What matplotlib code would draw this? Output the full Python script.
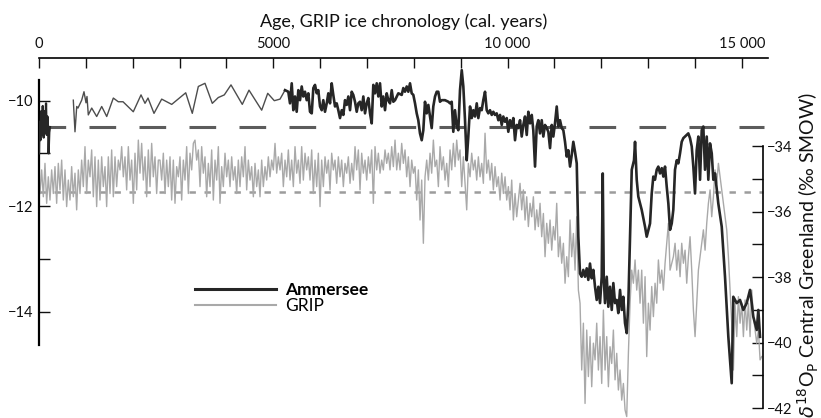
import numpy as np
import matplotlib
matplotlib.use("Agg")
import matplotlib.pyplot as plt
from matplotlib.lines import Line2D
from matplotlib.ticker import FixedLocator, MultipleLocator, NullFormatter, FixedFormatter

plt.rcParams['font.family'] = ['Lato', 'DejaVu Sans']
plt.rcParams['lines.scale_dashes'] = False
plt.rcParams['axes.unicode_minus'] = True

# ---------------- data ----------------
# Ammersee delta18O (left axis), three pieces
amm_early_years = [0, 10, 30, 45, 60, 80, 100, 115, 130, 150, 165, 180, 195, 205, 220, 235]
amm_early_vals = [-11.0, -10.4, -10.75, -10.2, -10.65, -10.1, -10.7, -10.2, -10.6, -10.05,
                  -10.65, -10.3, -10.55, -11.0, -10.6, -10.5]

amm_thin_years = [732, 768, 805, 832, 911, 960, 1003, 1024, 1052, 1125,
                  1231, 1338, 1445, 1586, 1692, 1793, 2012, 2177, 2262, 2326,
                  2454, 2618, 2832, 3131, 3271, 3400, 3542, 3698, 3826, 3954,
                  4097, 4338, 4481, 4752, 4881, 5021, 5143, 5250]
amm_thin_vals = [-9.99, -10.59, -10.11, -10.14, -9.99, -9.83, -10.04, -9.92, -10.27, -10.14,
                 -10.30, -10.11, -10.30, -9.95, -10.02, -10.02, -10.21, -9.89, -10.05, -9.95,
                 -10.24, -9.97, -10.07, -9.85, -10.24, -9.73, -9.67, -10.05, -9.94, -9.89,
                 -9.70, -10.07, -9.80, -10.18, -9.86, -10.00, -9.97, -9.80]

amm_main_years = [5250, 5320, 5356, 5393, 5427, 5463, 5499, 5534, 5570, 5606,
                  5640, 5676, 5713, 5747, 5783, 5820, 5854, 5890, 5926, 5960,
                  5997, 6033, 6067, 6103, 6140, 6174, 6210, 6246, 6280, 6317,
                  6353, 6387, 6423, 6460, 6494, 6530, 6566, 6601, 6637, 6673,
                  6707, 6743, 6780, 6814, 6850, 6886, 6921, 6957, 6993, 7027,
                  7064, 7100, 7134, 7170, 7207, 7241, 7277, 7313, 7347, 7384,
                  7420, 7454, 7490, 7527, 7561, 7597, 7668, 7740, 7774, 7810,
                  7847, 7881, 7917, 7953, 7988, 8024, 8060, 8094, 8130, 8167,
                  8201, 8237, 8273, 8308, 8344, 8380, 8414, 8451, 8487, 8521,
                  8557, 8594, 8664, 8735, 8771, 8807, 8841, 8877, 8914, 8948,
                  8984, 9021, 9055, 9091, 9127, 9161, 9198, 9234, 9268, 9304,
                  9341, 9375, 9411, 9447, 9481, 9518, 9554, 9588, 9624, 9661,
                  9695, 9731, 9767, 9802, 9838, 9874, 9908, 9944, 9981, 10015,
                  10051, 10088, 10122, 10158, 10194, 10228, 10265, 10301, 10335, 10371,
                  10408, 10442, 10478, 10515, 10548, 10585, 10621, 10655, 10691, 10728,
                  10762, 10798, 10835, 10869, 10905, 10942, 10975, 11011, 11048, 11082,
                  11118, 11155, 11189, 11225, 11261, 11295, 11332, 11368, 11402, 11438,
                  11475, 11496, 11509, 11545, 11581, 11615, 11652, 11688, 11722, 11758,
                  11794, 11829, 11865, 11901, 11936, 11972, 12008, 12030, 12051, 12078,
                  12115, 12149, 12185, 12222, 12256, 12292, 12328, 12362, 12399, 12435,
                  12469, 12505, 12542, 12576, 12612, 12649, 12697, 12719, 12755, 12789,
                  12861, 12932, 12968, 13039, 13075, 13109, 13145, 13182, 13216, 13252,
                  13289, 13323, 13359, 13395, 13430, 13466, 13502, 13536, 13572, 13609,
                  13643, 13679, 13715, 13750, 13822, 13856, 13892, 13929, 13963, 13999,
                  14035, 14070, 14106, 14142, 14176, 14212, 14249, 14283, 14319, 14356,
                  14390, 14426, 14496, 14569, 14639, 14710, 14782, 14816, 14889, 14959,
                  15030, 15102, 15173, 15209, 15243, 15316, 15350, 15386]
amm_main_vals = [-9.80, -9.83, -10.05, -9.67, -10.18, -9.92, -10.21, -9.80, -9.99, -9.73,
                 -9.92, -9.83, -9.99, -9.86, -10.21, -10.24, -9.76, -9.70, -9.86, -9.80,
                 -10.11, -10.18, -9.99, -10.21, -10.05, -9.86, -10.05, -9.67, -9.89, -10.11,
                 -10.05, -10.18, -10.33, -10.18, -10.27, -9.99, -10.08, -9.92, -10.18, -9.83,
                 -9.89, -10.02, -10.21, -10.05, -10.02, -10.18, -9.92, -10.24, -10.05, -9.95,
                 -10.24, -10.43, -9.70, -9.86, -9.67, -9.92, -9.67, -10.11, -9.92, -10.18,
                 -9.86, -9.99, -10.05, -9.80, -10.02, -9.99, -9.86, -9.89, -9.76, -9.83,
                 -9.73, -9.83, -9.67, -9.86, -9.89, -10.05, -10.24, -10.37, -10.62, -10.75,
                 -10.56, -10.02, -10.24, -10.08, -10.30, -10.52, -10.11, -9.92, -9.83, -9.83,
                 -10.02, -9.99, -9.99, -10.02, -10.05, -10.02, -10.59, -10.18, -10.49, -10.56,
                 -9.80, -9.42, -9.73, -10.37, -11.13, -10.68, -10.11, -10.33, -10.18, -10.30,
                 -10.05, -10.33, -10.14, -10.18, -9.99, -9.83, -10.18, -10.24, -10.18, -10.27,
                 -10.21, -10.27, -10.24, -10.37, -10.27, -10.46, -10.30, -10.40, -10.33, -10.59,
                 -10.37, -10.49, -10.33, -10.75, -10.46, -10.52, -10.37, -10.68, -10.46, -10.30,
                 -10.65, -10.21, -10.43, -10.27, -10.56, -11.25, -10.49, -10.37, -10.62, -10.37,
                 -10.68, -10.46, -10.52, -10.59, -10.90, -10.46, -10.68, -10.43, -10.11, -10.49,
                 -10.37, -10.52, -10.56, -10.78, -11.06, -10.94, -11.25, -11.03, -10.78, -10.97,
                 -11.19, -12.01, -12.58, -13.28, -13.34, -13.21, -13.34, -13.18, -13.40, -13.09,
                 -13.37, -13.21, -13.53, -13.78, -13.53, -13.84, -13.34, -11.38, -13.34, -13.84,
                 -13.34, -13.91, -13.53, -13.97, -13.46, -13.84, -13.78, -14.03, -13.59, -13.97,
                 -13.72, -14.22, -14.41, -13.84, -12.58, -11.31, -11.13, -10.78, -11.50, -11.82,
                 -12.07, -12.39, -12.58, -12.33, -11.76, -11.44, -11.50, -11.31, -11.25, -11.38,
                 -11.28, -11.44, -11.25, -11.63, -11.95, -12.45, -12.33, -12.07, -11.31, -11.13,
                 -11.19, -11.00, -10.78, -10.71, -10.65, -10.62, -10.71, -10.87, -11.25, -11.76,
                 -10.94, -10.68, -11.50, -10.56, -10.49, -11.31, -10.68, -11.50, -10.81, -11.00,
                 -11.50, -11.38, -11.95, -12.39, -13.34, -14.48, -15.36, -13.72, -13.84, -13.78,
                 -13.97, -13.84, -13.59, -13.84, -14.10, -14.35, -13.97, -14.48]

# GRIP delta18O (right axis), read at a uniform spacing of ~35.6 years
grip_first_year = 21
grip_step_years = 35.57
grip_vals = [
    -35.45, -34.73, -35.55, -34.53, -35.75, -34.94, -35.65, -34.73, -35.45, -34.63,
    -35.75, -34.53, -35.34, -34.43, -35.65, -34.73, -35.85, -35.04, -35.65, -34.63,
    -35.55, -34.83, -35.95, -34.73, -35.45, -34.43, -35.24, -34.02, -35.45, -34.43,
    -34.94, -34.12, -35.55, -34.33, -35.85, -34.43, -35.65, -34.33, -35.24, -34.63,
    -35.85, -34.33, -35.45, -34.12, -35.55, -34.33, -35.24, -34.43, -34.73, -34.02,
    -34.94, -34.33, -35.34, -34.02, -35.04, -34.43, -35.75, -34.22, -35.34, -33.82,
    -34.83, -33.92, -35.04, -34.33, -35.55, -34.12, -35.24, -33.92, -34.94, -34.33,
    -35.45, -34.43,
    -34.43, -35.04, -34.22, -35.45, -34.43, -35.24, -34.33, -35.65, -34.43, -35.75,
    -34.63, -34.94, -34.33, -35.65, -34.43, -35.04, -34.02, -35.45, -34.22, -34.73,
    -33.92, -33.82, -34.43, -34.12, -35.24, -34.02, -34.83, -34.33, -35.55, -34.53,
    -35.24, -34.12, -35.65, -34.43, -35.04, -34.02, -35.75, -34.63, -35.24, -34.22,
    -34.94, -34.43, -35.24, -34.33, -35.04, -34.63, -35.45, -34.43, -35.24, -34.33,
    -34.94, -34.02, -35.34, -34.43, -35.04, -34.63, -35.55, -34.53, -35.24, -34.73,
    -35.55, -34.43, -35.24, -34.63, -35.04, -34.33, -34.94, -34.43, -34.73, -33.92,
    -34.83, -34.33,
    -34.73, -34.22, -35.24, -34.43, -34.94, -34.12, -35.04, -34.43, -35.24, -34.02,
    -34.83, -34.43, -35.14, -34.02, -35.04, -34.22, -34.73, -34.33, -35.04, -34.12,
    -35.45, -34.43, -35.24, -34.22, -35.85, -34.43, -35.24, -34.33, -34.83, -34.43,
    -35.34, -34.22, -34.73, -34.43, -35.14, -34.33, -34.94, -34.43, -35.24, -34.53,
    -34.83, -34.33, -35.14, -34.53, -35.04, -34.02, -34.73, -34.12, -35.34, -34.22,
    -34.83, -34.43, -35.04, -34.33, -34.83, -34.12, -35.75, -34.02, -34.73, -34.22,
    -34.83, -34.43, -34.73, -34.12, -34.53, -34.22, -34.73, -34.02, -34.63, -33.82,
    -34.73, -34.22,
    -34.73, -33.92, -34.53, -34.12, -34.94, -34.33, -35.24, -34.43, -34.83, -34.63,
    -35.65, -34.73, -36.26, -35.04, -36.97, -34.94, -34.43, -35.04, -34.22, -34.83,
    -33.82, -34.63, -34.43, -35.24, -34.02, -34.73, -34.33, -35.04, -34.53, -35.24,
    -34.12, -34.73, -33.92, -34.63, -33.82, -34.43, -34.12, -35.24, -34.33, -35.14,
    -35.95, -34.53, -34.94, -34.22, -34.73, -34.43, -35.04, -34.33, -34.94, -34.53,
    -35.14, -33.61, -34.83, -34.43, -35.04, -34.53, -35.34, -34.63, -35.24, -34.94,
    -35.65, -34.83, -35.45, -34.94, -35.65, -35.24, -35.95, -35.04, -36.26, -35.45,
    -36.16, -35.65,
    -35.14, -35.95, -35.34, -36.26, -35.55, -36.46, -35.75, -36.16, -35.55, -36.56,
    -35.95, -36.46, -35.75, -36.77, -36.06, -37.38, -36.36, -36.97, -36.26, -37.18,
    -36.46, -36.87, -35.75, -37.38, -36.77, -37.58, -36.97, -38.19, -37.38, -37.99,
    -36.26, -37.38, -36.67, -37.79, -36.16, -38.40, -38.80, -40.84, -39.41, -41.86,
    -39.62, -41.04, -39.82, -41.35, -40.02, -40.53, -39.41, -40.84, -39.82, -41.25,
    -39.01, -40.84, -39.82, -41.35, -40.13, -40.64, -39.62, -41.14, -40.33, -41.45,
    -40.84, -41.76, -41.25, -42.06, -42.26, -40.33, -38.80, -37.79, -38.19, -37.48,
    -38.40, -37.79,
    -38.80, -37.79, -39.41, -37.99, -40.43, -38.80, -39.62, -38.29, -39.21, -38.19,
    -38.80, -37.48, -38.19, -37.79, -38.40, -37.58, -36.97, -36.36, -37.79, -37.58,
    -37.38, -36.97, -37.79, -37.18, -37.99, -36.97, -37.58, -37.18, -38.19, -37.38,
    -36.77, -37.79, -39.01, -39.82, -38.80, -37.79, -37.38, -36.97, -36.56, -37.18,
    -36.36, -35.75, -35.34, -36.16, -35.55, -34.73, -35.14, -34.53, -34.94, -35.34,
    -35.75, -36.16, -36.56, -37.38, -38.40, -39.41, -40.84, -38.80, -39.82, -38.60,
    -39.41, -38.80, -39.82, -38.70, -39.62, -38.80, -39.82, -38.40, -39.21, -39.62,
    -40.02, -39.62, -40.53, -40.43]

amm_mean = -10.5
grip_mean = -35.4

top_major_ticks = [0, 5000, 10000, 15000]
top_major_labels = ["0", "5000", "10 000", "15 000"]
left_major_ticks = [-10, -12, -14]
left_minor_ticks = [-11, -13]
right_major_ticks = [-34, -36, -38, -40, -42]
right_minor_ticks = [-35, -37, -39, -41]

# ---------------- figure ----------------
W, H = 821, 418
fig = plt.figure(figsize=(W / 100, H / 100), dpi=100)
x0_px, x1_px, top_px = 39, 767.7, 58
axG = fig.add_axes([x0_px / W, 0, (x1_px - x0_px) / W, (H - top_px) / H])
axA = axG.twinx()

axG.set_xlim(0, 15550)
axG.set_ylim(-42.305, -31.313)
axA.set_ylim(-16.02, -9.19)

AMM_DARK = "#262626"
AMM_THIN = "#4d4d4d"
GRIP_COL = "#a9a9a9"

grip_years = grip_first_year + grip_step_years * np.arange(len(grip_vals))

# mean lines
axG.plot([0, 15450], [grip_mean, grip_mean], color="#9c9c9c", lw=1.8,
         dashes=(4.6, 6.2), zorder=1, dash_capstyle="butt")
axG.plot(grip_years, grip_vals, color=GRIP_COL, lw=1.0, zorder=2)

axA.plot([0, 15470], [amm_mean, amm_mean], color="#5c5c5c", lw=2.2,
         dashes=(19.2, 16.8), zorder=1, dash_capstyle="butt")
axA.plot(amm_early_years, amm_early_vals, color=AMM_DARK, lw=1.6, zorder=3)
axA.plot(amm_thin_years, amm_thin_vals, color=AMM_THIN, lw=1.0, zorder=3)
axA.plot(amm_main_years, amm_main_vals, color=AMM_DARK, lw=1.9, zorder=3)

# spines
for s in ["left", "bottom", "right"]:
    axG.spines[s].set_visible(False)
for s in ["top", "bottom", "right"]:
    axA.spines[s].set_visible(False)
axG.spines["top"].set_linewidth(1.2)
axG.spines["right"].set_visible(True)
axG.spines["right"].set_position(("data", 15444))
axG.spines["right"].set_bounds(-42, -34)
axG.spines["right"].set_linewidth(1.2)
axA.spines["left"].set_visible(True)
axA.spines["left"].set_bounds(-14.64, -9.6)
axA.spines["left"].set_linewidth(1.6)

# top x axis
axG.xaxis.tick_top()
axG.xaxis.set_label_position("top")
axG.xaxis.set_major_locator(FixedLocator(top_major_ticks))
axG.xaxis.set_major_formatter(FixedFormatter(top_major_labels))
axG.xaxis.set_minor_locator(MultipleLocator(1000))
axG.tick_params(axis="x", which="both", direction="in", length=7, width=1.0,
                top=True, bottom=False, labeltop=True, labelbottom=False,
                pad=5, labelsize=10.5, colors="#111111")
axG.set_xlabel("Age, GRIP ice chronology (cal. years)", fontsize=13, labelpad=7,
               color="#111111")

# right axis (GRIP)
axG.yaxis.tick_right()
axG.yaxis.set_major_locator(FixedLocator(right_major_ticks))
axG.yaxis.set_minor_locator(FixedLocator(right_minor_ticks))
axG.yaxis.set_minor_formatter(NullFormatter())
axG.tick_params(axis="y", which="both", direction="in", length=8, width=1.0,
                left=False, right=True, labelleft=False, labelright=True,
                pad=3, labelsize=10.5, colors="#111111")

# left axis (Ammersee)
axA.yaxis.tick_left()
axA.yaxis.set_major_locator(FixedLocator(left_major_ticks))
axA.yaxis.set_minor_locator(FixedLocator(left_minor_ticks))
axA.yaxis.set_minor_formatter(NullFormatter())
axA.tick_params(axis="y", which="both", direction="in", length=8, width=1.0,
                left=True, right=False, labelleft=True, labelright=False,
                pad=4, labelsize=10.5, colors="#111111")

fig.text(808 / W, 1 - 92 / H, "$\\delta^{18}$O$_\\mathrm{P}$ Central Greenland (\u2030 SMOW)",
         rotation=90, ha="center", va="top", fontsize=14, color="#111111")

# legend
handles = [Line2D([], [], color=AMM_DARK, lw=2.2), Line2D([], [], color=GRIP_COL, lw=1.5)]
leg = axA.legend(handles, ["Ammersee", "GRIP"], loc="upper left",
                 bbox_to_anchor=(195 / W, 1 - 282 / H), bbox_transform=fig.transFigure,
                 frameon=False, fontsize=12.5, handlelength=4.65, handletextpad=0.55,
                 labelspacing=0.0, borderpad=0, borderaxespad=0)
leg.get_texts()[0].set_fontweight("bold")

fig.savefig("out.png", dpi=100)
